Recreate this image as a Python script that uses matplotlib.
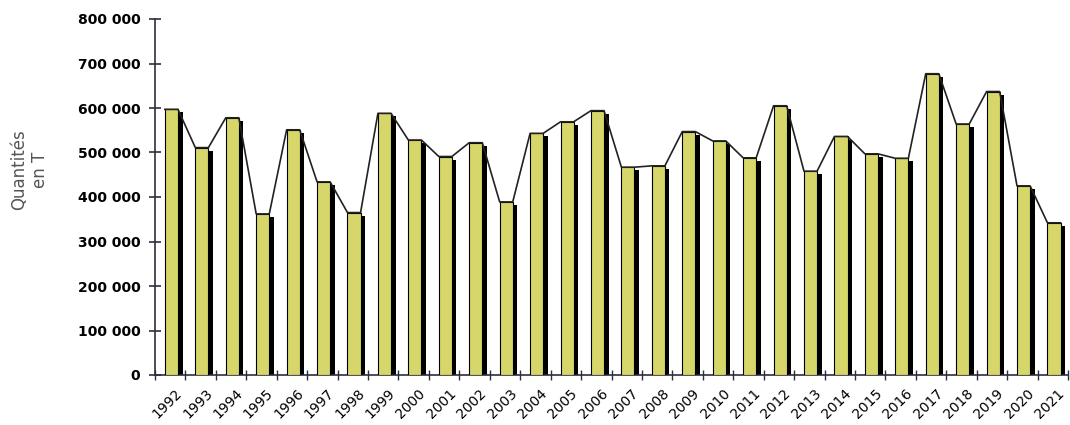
"""
Quantites annuelles 1992-2021, barres avec ombre et ligne de crete
"""

import numpy as np
from matplotlib import pyplot as plt
from matplotlib.ticker import FuncFormatter, FixedLocator

years = [str(y) for y in range(1992, 2022)]
quantities = [597000, 511000, 578000, 362000, 551000, 434000, 365000, 588000,
              528000, 491000, 522000, 389000, 543000, 569000, 594000, 467000,
              470000, 547000, 526000, 488000, 605000, 458000, 536000, 497000,
              487000, 677000, 564000, 637000, 425000, 342000]

barColor = "#D6D66A"
axisColor = "#2E2E3E"
barWidth = 0.43
barShift = 0.04

fig = plt.figure(figsize=(10.7, 4.25), dpi=100)
ax = fig.add_axes([155 / 1070, 1 - 375 / 425, 1 - 157 / 1070, (375 - 19) / 425])

xs = np.arange(len(years))
vals = np.array(quantities)

# side face (black shadow) then front face
ax.bar(xs + barShift + 0.15, vals - 7000, width=barWidth, color="black", zorder=2)
ax.bar(xs + barShift, vals, width=barWidth, color=barColor,
       edgecolor="black", linewidth=0.8, zorder=3)

# line running along the top of the bars
lineX = np.ravel(np.column_stack([xs + barShift - barWidth / 2, xs + barShift + barWidth / 2]))
lineY = np.repeat(vals, 2)
ax.plot(lineX, lineY, color="#222222", linewidth=1.2, zorder=4)

ax.set_xlim(-0.5, len(years) - 0.5)
ax.set_ylim(0, 800000)

ax.spines["top"].set_visible(False)
ax.spines["right"].set_visible(False)
for side in ["left", "bottom"]:
    ax.spines[side].set_color(axisColor)
    ax.spines[side].set_linewidth(1.2)

ax.set_yticks(np.arange(0, 800001, 100000))
ax.yaxis.set_major_formatter(FuncFormatter(lambda v, p: f"{int(v):,}".replace(",", " ")))
ax.tick_params(axis="y", direction="inout", length=9, width=1.2, color=axisColor,
               labelsize=10, pad=6)
for lab in ax.get_yticklabels():
    lab.set_fontweight("bold")

ax.xaxis.set_major_locator(FixedLocator(np.arange(-0.5, len(years), 1.0)))
ax.xaxis.set_minor_locator(FixedLocator(xs + 0.15))
ax.set_xticklabels([])
ax.set_xticklabels(years, minor=True, rotation=45, ha="right",
                   rotation_mode="anchor", fontsize=10)
ax.tick_params(axis="x", which="major", direction="inout", length=7, width=1.0,
               color=axisColor)
ax.tick_params(axis="x", which="minor", length=0, pad=8)

fig.text(0.028, 0.6, "Quantités\nen T", rotation=90, ha="center", va="center",
         fontsize=12, color="#555555", multialignment="center")

fig.savefig("out.png", dpi=100)
